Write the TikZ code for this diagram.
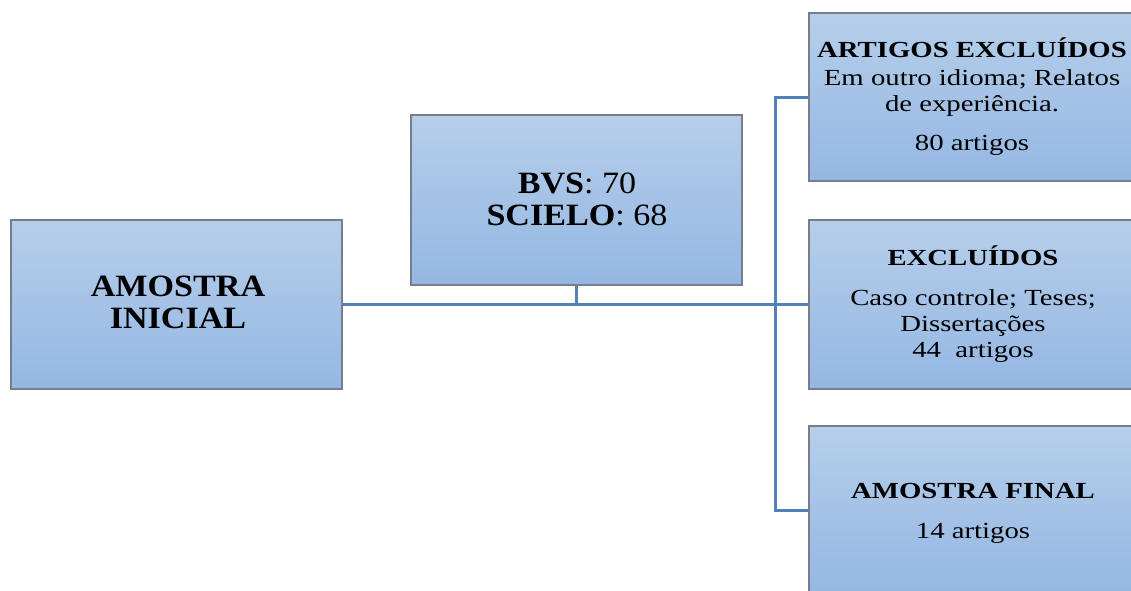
\documentclass[tikz,border=0pt]{standalone}
\usepackage{fontspec}
\setmainfont{Liberation Serif}
\usepackage{graphicx}
\definecolor{boxtop}{RGB}{182,206,234}
\definecolor{boxbot}{RGB}{148,183,227}
\definecolor{boxline}{RGB}{118,126,138}
\definecolor{conncol}{RGB}{80,128,186}
\tikzset{
  x=1pt, y=-1pt,
  box/.style={rectangle, draw=boxline, line width=1.3pt, top color=boxtop, bottom color=boxbot, minimum width=331pt, inner sep=0pt},
  conn/.style={draw=conncol, line width=3pt},
  bigtxt/.style={anchor=base, inner sep=0pt, font=\fontsize{31}{31}\selectfont},
  smtxt/.style={anchor=base, inner sep=0pt, font=\fontsize{23}{23}\selectfont},
}
\newcommand{\widel}[1]{\scalebox{1.1}[1]{#1}}
\newcommand{\wider}[1]{\scalebox{1.25}[1]{#1}}
\begin{document}
\begin{tikzpicture}
\useasboundingbox (0,0) rectangle (1131,590);
\clip (0,0) rectangle (1131,590);
% boxes
\node[box, minimum height=169pt] (ini) at (176.5,304.5) {};
\node[box, minimum height=170pt] (bvs) at (576.5,200) {};
\node[box, minimum height=168pt] (art) at (974.5,97) {};
\node[box, minimum height=169pt] (exc) at (974.5,304.5) {};
\node[box, minimum height=169pt] (fin) at (974.5,510.5) {};
\coordinate (sp) at (775,305);
% connectors
\draw[conn] (ini.east) -- (exc.west);
\draw[conn] (bvs.south) -- (bvs.south |- ini.east);
\draw[conn] (art.west) -| (sp) |- (fin.west);
% texts
\node[bigtxt] (ini1) at (178,296) {\widel{\textbf{AMOSTRA}}};
\node[bigtxt] (ini2) at (178,328) {\widel{\textbf{INICIAL}}};
\node[bigtxt] (bvs1) at (577,193) {\widel{\textbf{BVS}: 70}};
\node[bigtxt] (bvs2) at (577,225) {\widel{\textbf{SCIELO}: 68}};
\node[smtxt] (art1) at (972,57) {\wider{\textbf{ARTIGOS EXCLUÍDOS}}};
\node[smtxt] (art2) at (972,85) {\wider{Em outro idioma; Relatos}};
\node[smtxt] (art3) at (972,111) {\wider{de experiência.}};
\node[smtxt] (art4) at (972,150) {\wider{80 artigos}};
\node[smtxt] (exc1) at (973,265) {\wider{\textbf{EXCLUÍDOS}}};
\node[smtxt] (exc2) at (973,305) {\wider{Caso controle; Teses;}};
\node[smtxt] (exc3) at (973,331) {\wider{Dissertações}};
\node[smtxt] (exc4) at (973,357) {\wider{44\ \ artigos}};
\node[smtxt] (fin1) at (973,498) {\wider{\textbf{AMOSTRA FINAL}}};
\node[smtxt] (fin2) at (973,538) {\wider{14 artigos}};
\end{tikzpicture}
\end{document}
